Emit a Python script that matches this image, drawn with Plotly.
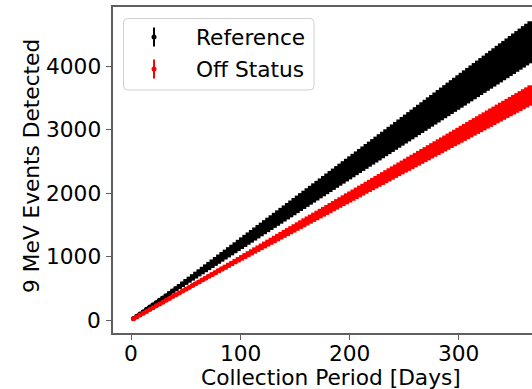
import plotly.graph_objects as go

# Collection day for each cumulative reading
days = [
    2, 5, 8, 11, 14, 17, 20, 23, 26, 29,
    32, 35, 38, 41, 44, 47, 50, 53, 56, 59,
    62, 65, 68, 71, 74, 77, 80, 83, 86, 89,
    92, 95, 98, 101, 104, 107, 110, 113, 116, 119,
    122, 125, 128, 131, 134, 137, 140, 143, 146, 149,
    152, 155, 158, 161, 164, 167, 170, 173, 176, 179,
    182, 185, 188, 191, 194, 197, 200, 203, 206, 209,
    212, 215, 218, 221, 224, 227, 230, 233, 236, 239,
    242, 245, 248, 251, 254, 257, 260, 263, 266, 269,
    272, 275, 278, 281, 284, 287, 290, 293, 296, 299,
    302, 305, 308, 311, 314, 317, 320, 323, 326, 329,
    332, 335, 338, 341, 344, 347, 350, 353, 356, 359,
    362, 365,
]

# Reference configuration: cumulative 9 MeV events and their uncertainty
ref_events = [
    24, 60, 96, 132, 168, 204, 240, 276, 312, 348,
    384, 420, 456, 492, 528, 564, 600, 636, 672, 708,
    744, 780, 816, 852, 888, 924, 960, 996, 1032, 1068,
    1104, 1140, 1176, 1212, 1248, 1284, 1320, 1356, 1392, 1428,
    1464, 1500, 1536, 1572, 1608, 1644, 1680, 1716, 1752, 1788,
    1824, 1860, 1896, 1932, 1968, 2004, 2040, 2076, 2112, 2148,
    2184, 2220, 2256, 2292, 2328, 2364, 2400, 2436, 2472, 2508,
    2544, 2580, 2616, 2652, 2688, 2724, 2760, 2796, 2832, 2868,
    2904, 2940, 2976, 3012, 3048, 3084, 3120, 3156, 3192, 3228,
    3264, 3300, 3336, 3372, 3408, 3444, 3480, 3516, 3552, 3588,
    3624, 3660, 3696, 3732, 3768, 3804, 3840, 3876, 3912, 3948,
    3984, 4020, 4056, 4092, 4128, 4164, 4200, 4236, 4272, 4308,
    4344, 4380,
]
ref_err = [
    2, 5, 7, 10, 13, 15, 18, 21, 24, 26,
    29, 32, 35, 37, 40, 43, 46, 48, 51, 54,
    56, 59, 62, 65, 67, 70, 73, 76, 78, 81,
    84, 86, 89, 92, 95, 97, 100, 103, 106, 108,
    111, 114, 116, 119, 122, 125, 127, 130, 133, 136,
    138, 141, 144, 147, 149, 152, 155, 157, 160, 163,
    166, 168, 171, 174, 177, 179, 182, 185, 187, 190,
    193, 196, 198, 201, 204, 207, 209, 212, 215, 217,
    220, 223, 226, 228, 231, 234, 237, 239, 242, 245,
    248, 250, 253, 256, 258, 261, 264, 267, 269, 272,
    275, 278, 280, 283, 286, 288, 291, 294, 297, 299,
    302, 305, 308, 310, 313, 316, 319, 321, 324, 327,
    329, 332,
]

# Off-status configuration
off_events = [
    19, 49, 78, 107, 136, 165, 194, 223, 252, 281,
    310, 340, 369, 398, 427, 456, 485, 514, 543, 572,
    601, 631, 660, 689, 718, 747, 776, 805, 834, 863,
    892, 922, 951, 980, 1009, 1038, 1067, 1096, 1125, 1154,
    1183, 1213, 1242, 1271, 1300, 1329, 1358, 1387, 1416, 1445,
    1474, 1504, 1533, 1562, 1591, 1620, 1649, 1678, 1707, 1736,
    1765, 1795, 1824, 1853, 1882, 1911, 1940, 1969, 1998, 2027,
    2056, 2086, 2115, 2144, 2173, 2202, 2231, 2260, 2289, 2318,
    2347, 2377, 2406, 2435, 2464, 2493, 2522, 2551, 2580, 2609,
    2638, 2668, 2697, 2726, 2755, 2784, 2813, 2842, 2871, 2900,
    2929, 2959, 2988, 3017, 3046, 3075, 3104, 3133, 3162, 3191,
    3220, 3250, 3279, 3308, 3337, 3366, 3395, 3424, 3453, 3482,
    3511, 3541,
]
off_err = [
    1, 2, 4, 5, 6, 7, 9, 10, 11, 13,
    14, 15, 17, 18, 19, 21, 22, 23, 25, 26,
    27, 29, 30, 31, 33, 34, 35, 37, 38, 39,
    40, 42, 43, 44, 46, 47, 48, 50, 51, 52,
    54, 55, 56, 58, 59, 60, 62, 63, 64, 66,
    67, 68, 70, 71, 72, 73, 75, 76, 77, 79,
    80, 81, 83, 84, 85, 87, 88, 89, 91, 92,
    93, 95, 96, 97, 99, 100, 101, 103, 104, 105,
    106, 108, 109, 110, 112, 113, 114, 116, 117, 118,
    120, 121, 122, 124, 125, 126, 128, 129, 130, 132,
    133, 134, 136, 137, 138, 139, 141, 142, 143, 145,
    146, 147, 149, 150, 151, 153, 154, 155, 157, 158,
    159, 161,
]

x_ticks = [0, 100, 200, 300]
y_ticks = [0, 1000, 2000, 3000, 4000]

series = [
    ("Reference", ref_events, ref_err, "black"),
    ("Off Status", off_events, off_err, "red"),
]

W, H = 532, 389
ML, MR, MT, MB = 113, 0, 7, 56
PW, PH = W - ML - MR, H - MT - MB
FONT = "DejaVu Sans"
FS = 21.7
SPINE = "#5f5f5f"
TXT = dict(family=FONT, size=FS, color="black")


def px(x):
    return (x - ML) / PW


def py(y):
    return (H - MB - y) / PH


fig = go.Figure()
for name, vals, errs, color in series:
    fig.add_trace(go.Scatter(
        x=days, y=vals, mode="markers", name=name,
        marker=dict(color=color, size=5, line=dict(width=0)),
        error_y=dict(type="data", array=errs, visible=True,
                     color=color, thickness=5, width=0),
        showlegend=False,
    ))

# Legend box drawn by hand so each entry shows an error-bar glyph
x0, x1, y0, y1, r = px(123.5), px(314), py(18.5), py(90), 4
rx, ry = r / PW, r / PH
path = (f"M {x0+rx},{y0} L {x1-rx},{y0} Q {x1},{y0} {x1},{y0-ry} "
        f"L {x1},{y1+ry} Q {x1},{y1} {x1-rx},{y1} L {x0+rx},{y1} "
        f"Q {x0},{y1} {x0},{y1+ry} L {x0},{y0-ry} Q {x0},{y0} {x0+rx},{y0} Z")
shapes = [dict(type="path", path=path, xref="paper", yref="paper",
               line=dict(color="#d0d0d0", width=1), fillcolor="rgba(255,255,255,0.8)")]
annotations = []
for (name, _, _, color), cy in zip(series, [37, 69]):
    shapes.append(dict(type="line", xref="paper", yref="paper",
                       x0=px(154), x1=px(154), y0=py(cy - 9.5), y1=py(cy + 9.5),
                       line=dict(color=color, width=2)))
    shapes.append(dict(type="circle", xref="paper", yref="paper",
                       x0=px(151.5), x1=px(156.5), y0=py(cy - 2.5), y1=py(cy + 2.5),
                       fillcolor=color, line=dict(width=0)))
    annotations.append(dict(text=name, xref="paper", yref="paper",
                            x=px(194), y=py(cy), xanchor="left", yanchor="middle",
                            showarrow=False, font=TXT))

# Tick labels, placed on the axes' own coordinates
for v in x_ticks:
    annotations.append(dict(text=str(v), xref="x", yref="paper", x=v, y=py(353),
                            xanchor="center", yanchor="middle", showarrow=False, font=TXT))
for v in y_ticks:
    annotations.append(dict(text=str(v), xref="paper", yref="y", x=px(102.5), y=v,
                            xanchor="right", yanchor="middle", showarrow=False, font=TXT))

annotations.append(dict(text="Collection Period [Days]", xref="paper", yref="paper",
                        x=px(331), y=py(377), xanchor="center", yanchor="middle",
                        showarrow=False, font=TXT))
annotations.append(dict(text="9 MeV Events Detected", xref="paper", yref="paper",
                        x=px(31), y=py(166), xanchor="center", yanchor="middle",
                        textangle=-90, showarrow=False, font=TXT))

fig.update_layout(
    width=W, height=H,
    margin=dict(l=ML, r=MR, t=MT, b=MB, pad=0),
    paper_bgcolor="white", plot_bgcolor="white",
    font=TXT,
    shapes=shapes, annotations=annotations,
    xaxis=dict(range=[-16.7, 366.9], tickvals=x_ticks, showticklabels=False,
               showgrid=False, zeroline=False,
               showline=True, linecolor=SPINE, linewidth=1.8, mirror=True,
               ticks="outside", ticklen=5, tickwidth=1.4, tickcolor=SPINE),
    yaxis=dict(range=[-205, 4937], tickvals=y_ticks, showticklabels=False,
               showgrid=False, zeroline=False,
               showline=True, linecolor=SPINE, linewidth=1.8, mirror=False,
               ticks="outside", ticklen=5, tickwidth=1.4, tickcolor=SPINE),
)

fig.write_html("out.html")
